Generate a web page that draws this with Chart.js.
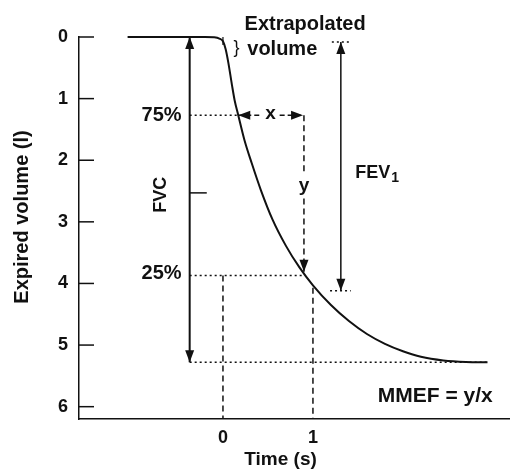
<!DOCTYPE html>
<html lang="en">
<head>
    <meta charset="UTF-8">
    <title>FVC / FEV1 spirogram</title>
    <script src="https://cdn.jsdelivr.net/npm/chart.js"></script>
    <style>
        body { margin: 0; background: #fff; }
    </style>
</head>
<body>
    <canvas id="myChart" width="510" height="472"></canvas>
    <script>
        // Кривая выдоха: время (с) и объём (л)
        const curveTime   = [-1.06, -0.5, -0.2, -0.1, -0.04, 0.0, 0.03, 0.06, 0.10, 0.13, 0.17, 0.24, 0.32, 0.42, 0.55, 0.70, 0.85, 1.0, 1.2, 1.4, 1.6, 1.8, 2.0, 2.2, 2.45, 2.7, 2.94];
        const curveVolume = [0, 0, 0, 0.005, 0.025, 0.07, 0.2, 0.42, 0.78, 1.03, 1.27, 1.68, 2.05, 2.48, 2.96, 3.39, 3.74, 4.03, 4.35, 4.61, 4.82, 4.98, 5.10, 5.19, 5.25, 5.275, 5.28];

        const yTickValues = [0, 1, 2, 3, 4, 5, 6];
        const xTickValues = [0, 1];
        const yMax = 6.2;

        // Отметки на схеме
        const fvcVolume = 5.28;
        const fvcTime = -0.37;
        const fvcMidMark = 2.53;
        const level75 = 1.27;
        const level25 = 3.87;
        const t75 = 0.17;
        const t25 = 0.90;
        const yArrowTip = 3.81;
        const oneSecondVolume = 4.07;
        const fev1Time = 1.31;
        const fev1Top = 0.08;
        const fev1Bottom = 4.12;
        const extrapTime = 0.0;
        const extrapMark = 0.13;
        const curveEnd = 2.94;

        const ink = '#111';
        const dotted = [2, 3];
        const dashed = [6, 4];

        function seg(x1, y1, x2, y2) {
            return [{x: x1, y: y1}, {x: x2, y: y2}];
        }

        function lineSet(data, extra) {
            return Object.assign({
                type: 'line',
                data: data,
                borderColor: ink,
                borderWidth: 1.5,
                pointRadius: 0,
                fill: false,
                clip: false
            }, extra || {});
        }

        const datasets = [
            lineSet(curveTime.map((t, i) => ({x: t, y: curveVolume[i]})), {borderWidth: 2, cubicInterpolationMode: 'monotone'}),
            lineSet(seg(fvcTime, 0, fvcTime, fvcVolume), {borderWidth: 2, arrowStart: true, arrowEnd: true}),
            lineSet(seg(fvcTime, fvcMidMark, -0.18, fvcMidMark)),
            lineSet(seg(fvcTime, level75, t75, level75), {borderDash: dotted}),
            lineSet(seg(t75, level75, 0.43, level75), {borderDash: [5, 3], arrowStart: true}),
            lineSet(seg(0.63, level75, t25 - 0.01, level75), {borderDash: [5, 3], arrowEnd: true}),
            lineSet(seg(t25, level75, t25, 2.2), {borderDash: dashed}),
            lineSet(seg(t25, 2.62, t25, yArrowTip), {borderDash: dashed, arrowEnd: true}),
            lineSet(seg(fvcTime, level25, t25, level25), {borderDash: dotted}),
            lineSet(seg(0, level25, 0, yMax), {borderDash: dashed}),
            lineSet(seg(1, oneSecondVolume, 1, yMax), {borderDash: dashed}),
            lineSet(seg(fvcTime, fvcVolume, curveEnd, fvcVolume), {borderDash: dotted}),
            lineSet(seg(fev1Time, fev1Top, fev1Time, fev1Bottom), {arrowStart: true, arrowEnd: true}),
            lineSet(seg(1.21, fev1Top, 1.40, fev1Top), {borderDash: dotted}),
            lineSet(seg(1.19, fev1Bottom, 1.42, fev1Bottom), {borderDash: dotted}),
            lineSet(seg(extrapTime, 0, extrapTime, extrapMark), {borderWidth: 1.2})
        ];

        // Наконечники стрел
        const arrowPlugin = {
            id: 'arrows',
            afterDatasetsDraw(chart) {
                const c = chart.ctx;
                chart.data.datasets.forEach((ds, i) => {
                    const pts = chart.getDatasetMeta(i).data;
                    const head = (tip, from) => {
                        const a = Math.atan2(tip.y - from.y, tip.x - from.x);
                        const len = 12, half = 4.5;
                        c.save();
                        c.translate(tip.x, tip.y);
                        c.rotate(a);
                        c.beginPath();
                        c.moveTo(0, 0);
                        c.lineTo(-len, -half);
                        c.lineTo(-len, half);
                        c.closePath();
                        c.fillStyle = ink;
                        c.fill();
                        c.restore();
                    };
                    if (ds.arrowStart) head(pts[0], pts[1]);
                    if (ds.arrowEnd) head(pts[pts.length - 1], pts[pts.length - 2]);
                });
            }
        };

        // Короткие засечки оси Y внутрь графика и подписи
        const notesPlugin = {
            id: 'notes',
            afterDraw(chart) {
                const c = chart.ctx;
                const xs = chart.scales.x, ys = chart.scales.y;
                const area = chart.chartArea;
                c.save();
                c.strokeStyle = ink;
                c.lineWidth = 1.5;
                yTickValues.forEach(v => {
                    const py = ys.getPixelForValue(v);
                    c.beginPath();
                    c.moveTo(area.left, py);
                    c.lineTo(area.left + 15, py);
                    c.stroke();
                });

                const F = 'Liberation Sans, Arial, sans-serif';
                const text = (s, t, v, size, align, weight) => {
                    c.font = (weight || 'bold') + ' ' + size + 'px ' + F;
                    c.textAlign = align || 'center';
                    c.textBaseline = 'middle';
                    c.fillStyle = ink;
                    c.fillText(s, xs.getPixelForValue(t), ys.getPixelForValue(v));
                };
                text('Extrapolated', 0.24, -0.21, 20, 'left');
                text('volume', 0.27, 0.21, 20, 'left');
                text('}', 0.15, 0.18, 18, 'center', 'normal');
                text('75%', -0.46, level75, 20, 'right');
                text('25%', -0.46, level25 - 0.03, 20, 'right');
                text('x', 0.53, level75 - 0.02, 19);
                text('y', t25, 2.42, 19);
                text('MMEF = y/x', 1.72, 5.83, 21, 'left');

                // FEV1 с нижним индексом
                c.font = 'bold 18px ' + F;
                c.textAlign = 'left';
                const fx = xs.getPixelForValue(1.47), fy = ys.getPixelForValue(2.2);
                c.fillText('FEV', fx, fy);
                const w = c.measureText('FEV').width;
                c.font = 'bold 14px ' + F;
                c.fillText('1', fx + w + 1, fy + 6);

                // FVC повернуто
                c.save();
                c.translate(xs.getPixelForValue(-0.69), ys.getPixelForValue(2.56));
                c.rotate(-Math.PI / 2);
                c.font = 'bold 18px ' + F;
                c.textAlign = 'center';
                c.fillText('FVC', 0, 0);
                c.restore();

                // Подписи осей
                c.save();
                c.translate(22, (area.top + area.bottom) / 2 - 11);
                c.rotate(-Math.PI / 2);
                c.font = 'bold 20px ' + F;
                c.textAlign = 'center';
                c.fillText('Expired volume (l)', 0, 0);
                c.restore();

                c.font = 'bold 19px ' + F;
                c.textAlign = 'center';
                c.fillText('Time (s)', xs.getPixelForValue(0.64), area.bottom + 41);
                c.restore();
            }
        };

        new Chart(document.getElementById('myChart').getContext('2d'), {
            type: 'line',
            data: {datasets: datasets},
            options: {
                responsive: false,
                animation: false,
                layout: {padding: {top: 37, left: 0, right: 0, bottom: 0}},
                plugins: {legend: {display: false}, tooltip: {enabled: false}},
                scales: {
                    x: {
                        type: 'linear',
                        min: -1.6,
                        max: 3.19,
                        afterBuildTicks: s => { s.ticks = xTickValues.map(v => ({value: v})); },
                        afterFit: s => { s.height = 53; },
                        grid: {display: false, drawTicks: false},
                        border: {display: true, color: ink, width: 1.5},
                        ticks: {color: ink, padding: 8, font: {family: 'Liberation Sans', size: 18, weight: 'bold'}}
                    },
                    y: {
                        type: 'linear',
                        reverse: true,
                        min: 0,
                        max: yMax,
                        afterBuildTicks: s => { s.ticks = yTickValues.map(v => ({value: v})); },
                        afterFit: s => { s.width = 79; },
                        grid: {display: false, drawTicks: false},
                        border: {display: true, color: ink, width: 1.5},
                        ticks: {color: ink, padding: 11, font: {family: 'Liberation Sans', size: 18, weight: 'bold'}}
                    }
                }
            },
            plugins: [arrowPlugin, notesPlugin]
        });
    </script>
</body>
</html>
